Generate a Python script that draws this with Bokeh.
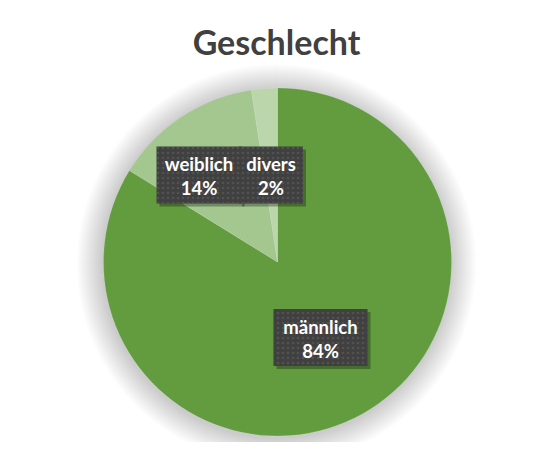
import math
from bokeh.plotting import figure
from bokeh.models import ColumnDataSource, Range1d
from bokeh.core.properties import value
from bokeh.embed import file_html
from bokeh.resources import INLINE

# data
categories = ["männlich", "weiblich", "divers"]
shares = [83.8, 13.8, 2.4]
colors = ["#639C3F", "#A3C78F", "#BBD6AB"]
title_text = "Geschlecht"

# layout (pixel coords of the picture, y measured from the top)
W, H = 537, 442
cx, cy, r = 277, 261.5, 174
label_pos = {"männlich": (320, 337, 94), "weiblich": (198.5, 174.5, 85), "divers": (270.5, 174.5, 64)}
box_h = 57


def fy(y):
    return H - y


total = sum(shares)
starts, ends = [], []
cum = 0.0
for s in shares:
    starts.append(math.pi / 2 - 2 * math.pi * cum / total)
    cum += s
    ends.append(math.pi / 2 - 2 * math.pi * cum / total)

src = ColumnDataSource(dict(cat=categories, start=starts, end=ends, color=colors))

p = figure(width=W, height=H, output_backend="svg", toolbar_location=None,
           x_range=Range1d(0, W), y_range=Range1d(0, H), min_border=0)
p.axis.visible = False
p.grid.visible = False
p.outline_line_color = None
p.background_fill_color = "white"

# soft shadow around the pie
for i in range(26):
    p.circle(x=cx - 1, y=fy(cy + 2), radius=r + 26 - i, fill_color="black",
             fill_alpha=0.0065, line_color=None)

p.wedge(x=cx, y=fy(cy), radius=r, start_angle="start", end_angle="end",
        direction="clock", fill_color="color", line_color="white",
        line_width=0.6, line_alpha=0.2, source=src)

# data labels
lx, ly, lw, l1, l2 = [], [], [], [], []
for c, s in zip(categories, shares):
    x, y, w = label_pos[c]
    lx.append(x)
    ly.append(fy(y))
    lw.append(w)
    l1.append(c)
    l2.append(f"{round(s * 100 / total)}%")
lab = ColumnDataSource(dict(x=lx, y=ly, w=lw, name=l1, pct=l2,
                            sx=[v + 3 for v in lx], sy=[v - 3 for v in ly]))

p.rect(x="sx", y="sy", width="w", height=box_h, source=lab,
       fill_color="black", fill_alpha=0.3, line_color=None)
p.rect(x="x", y="y", width="w", height=box_h, source=lab,
       fill_color="#404040", line_color=None,
       hatch_pattern="dot", hatch_color="#525252", hatch_scale=5, hatch_weight=2)
p.text(x="x", y="y", text="name", source=lab, y_offset=-11,
       text_align="center", text_baseline="middle", text_color="white",
       text_font=value("Lato"), text_font_style="bold", text_font_size="18.5px")
p.text(x="x", y="y", text="pct", source=lab, y_offset=13,
       text_align="center", text_baseline="middle", text_color="white",
       text_font=value("Lato"), text_font_style="bold", text_font_size="18.5px")

p.text(x=[276], y=[fy(41)], text=[title_text], text_align="center",
       text_baseline="middle", text_color="#404040", text_font=value("Lato"),
       text_font_style="bold", text_font_size="34px")

open("out.html", "w").write(file_html(p, INLINE))
